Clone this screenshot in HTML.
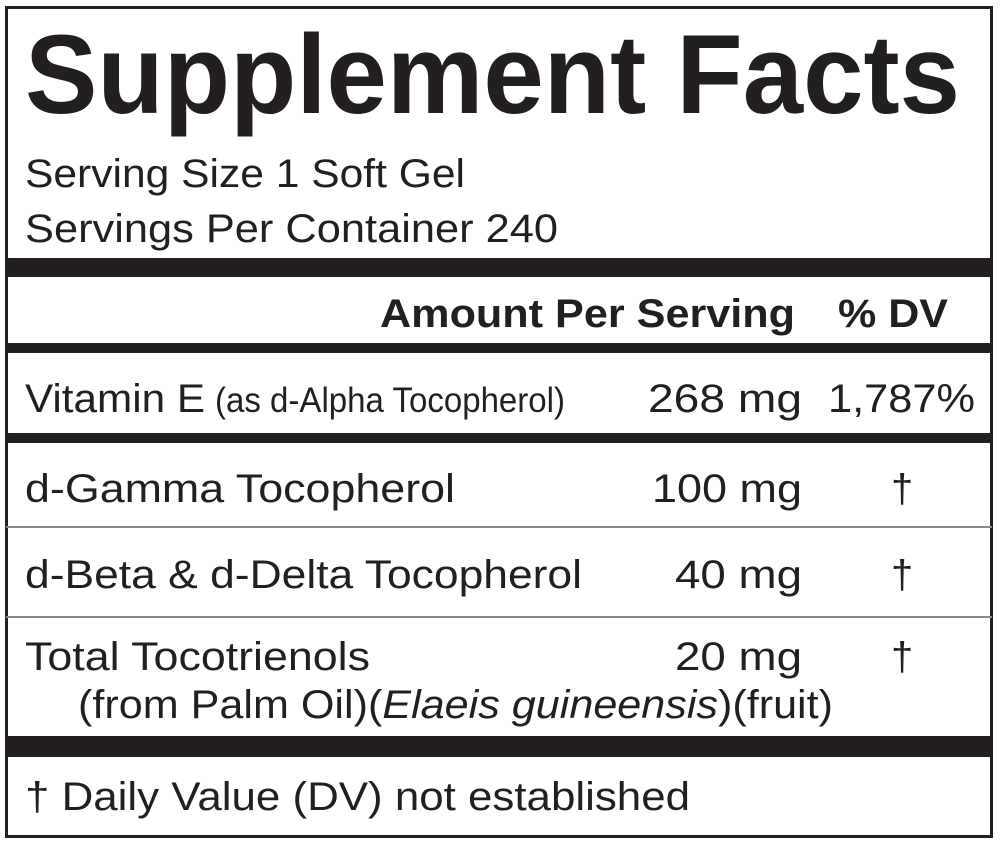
<!DOCTYPE html>
<html><head><meta charset="utf-8"><style>
html,body{margin:0;padding:0;background:#fff;width:1000px;height:845px;overflow:hidden}
svg{display:block}
text{font-family:"Liberation Sans",sans-serif;fill:#231f20}
</style></head><body>
<svg width="1000" height="845" viewBox="0 0 1000 845">
<rect x="0" y="0" width="1000" height="845" fill="#fff"/>
<rect x="6.5" y="7.5" width="985" height="829" fill="none" stroke="#231f20" stroke-width="3"/>
<rect x="6" y="258" width="986" height="19" fill="#231f20"/>
<rect x="6" y="343" width="986" height="10" fill="#231f20"/>
<rect x="6" y="433" width="986" height="10" fill="#231f20"/>
<rect x="6" y="526" width="986" height="2" fill="#888"/>
<rect x="6" y="616" width="986" height="2" fill="#888"/>
<rect x="6" y="736" width="986" height="21" fill="#231f20"/>
<text x="25" y="113" font-size="112" font-weight="bold" textLength="935" lengthAdjust="spacingAndGlyphs">Supplement Facts</text>
<text x="25" y="187" font-size="40" textLength="440" lengthAdjust="spacingAndGlyphs">Serving Size 1 Soft Gel</text>
<text x="25" y="242" font-size="40" textLength="533" lengthAdjust="spacingAndGlyphs">Servings Per Container 240</text>
<text x="380" y="327" font-size="40" font-weight="bold" textLength="415" lengthAdjust="spacingAndGlyphs">Amount Per Serving</text>
<text x="838" y="327" font-size="40" font-weight="bold" textLength="110" lengthAdjust="spacingAndGlyphs">% DV</text>
<text x="25" y="412" font-size="40" textLength="180" lengthAdjust="spacingAndGlyphs">Vitamin E</text>
<text x="215" y="412" font-size="35" textLength="350" lengthAdjust="spacingAndGlyphs">(as d-Alpha Tocopherol)</text>
<text x="648" y="412" font-size="40" textLength="154" lengthAdjust="spacingAndGlyphs">268 mg</text>
<text x="828" y="412" font-size="40" textLength="147" lengthAdjust="spacingAndGlyphs">1,787%</text>
<text x="25" y="502" font-size="40" textLength="430" lengthAdjust="spacingAndGlyphs">d-Gamma Tocopherol</text>
<text x="652" y="502" font-size="40" textLength="150" lengthAdjust="spacingAndGlyphs">100 mg</text>
<text x="891" y="502" font-size="40">†</text>
<text x="25" y="588" font-size="40" textLength="557" lengthAdjust="spacingAndGlyphs">d-Beta &amp; d-Delta Tocopherol</text>
<text x="675" y="588" font-size="40" textLength="127" lengthAdjust="spacingAndGlyphs">40 mg</text>
<text x="891" y="588" font-size="40">†</text>
<text x="25" y="670" font-size="40" textLength="345" lengthAdjust="spacingAndGlyphs">Total Tocotrienols</text>
<text x="675" y="670" font-size="40" textLength="127" lengthAdjust="spacingAndGlyphs">20 mg</text>
<text x="891" y="670" font-size="40">†</text>
<text x="78" y="718" font-size="40" textLength="755" lengthAdjust="spacingAndGlyphs">(from Palm Oil)(<tspan font-style="italic">Elaeis guineensis</tspan>)(fruit)</text>
<text x="25" y="810" font-size="40" textLength="665" lengthAdjust="spacingAndGlyphs">† Daily Value (DV) not established</text>
</svg>
</body></html>
